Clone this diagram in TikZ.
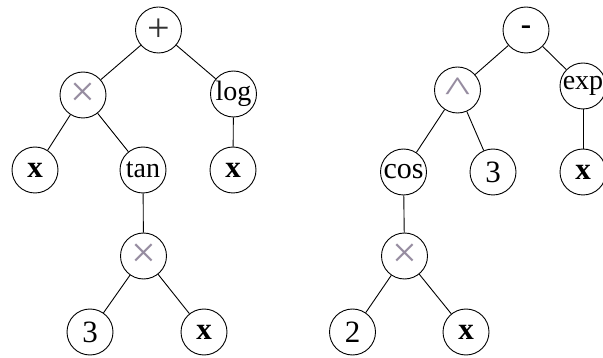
\documentclass[tikz,border=0pt]{standalone}
\usepackage{fontspec}
\setmainfont{Liberation Serif}
\definecolor{opgray}{RGB}{150,140,160}
\begin{document}
\begin{tikzpicture}[x=1pt,y=-1pt,
  tn/.style={circle,draw=black,line width=0.9pt,minimum size=46pt,inner sep=0pt,
    font=\fontsize{28}{28}\selectfont},
  big/.style={font=\fontsize{31}{31}\selectfont},
  op/.style={tn,text=opgray,font=\fontsize{44}{44}\selectfont},
  edge/.style={draw=black,line width=0.9pt}]
\useasboundingbox (0,0) rectangle (603,358);
% left tree
\node[tn,font=\fontsize{40}{40}\selectfont,text=black!80] (p) at (158.5,30) {\raisebox{-0.06em}{+}};
\node[op] (m1) at (83,95) {×};
\node[tn] (lg) at (233.5,94) {log};
\node[tn,big] (x1) at (35,170) {\textbf{x}};
\node[tn] (tn) at (143,170) {tan};
\node[tn,big] (x2) at (233,170) {\textbf{x}};
\node[op] (m2) at (143.5,256) {×};
\node[tn,big] (t3) at (90,332) {3};
\node[tn,big] (x3) at (204,332) {\textbf{x}};
\draw[edge] (p) -- (m1);
\draw[edge] (p) -- (lg);
\draw[edge] (m1) -- (x1);
\draw[edge] (m1) -- (tn);
\draw[edge] (lg) -- (x2);
\draw[edge] (tn) -- (m2);
\draw[edge] (m2) -- (t3);
\draw[edge] (m2) -- (x3);
% right tree
\node[tn,big] (mi) at (526,30) {\textbf{-}};
\node[op,font=\fontsize{36}{36}\selectfont] (ca) at (457.5,90) {\raisebox{-0.42em}{\scalebox{1.5}[1]{\^{}}}};
\node[tn,font=\fontsize{28}{28}\selectfont] (ex) at (583,86) {exp};
\node[tn,font=\fontsize{30}{30}\selectfont] (co) at (403.5,172) {cos};
\node[tn,big] (r3) at (493,172) {3};
\node[tn,big] (x4) at (583,172) {\textbf{x}};
\node[op] (m3) at (404.5,256) {×};
\node[tn,big] (t2) at (352.5,332) {2};
\node[tn,big] (x5) at (466,332) {\textbf{x}};
\draw[edge] (mi) -- (ca);
\draw[edge] (mi) -- (ex);
\draw[edge] (ca) -- (co);
\draw[edge] (ca) -- (r3);
\draw[edge] (ex) -- (x4);
\draw[edge] (co) -- (m3);
\draw[edge] (m3) -- (t2);
\draw[edge] (m3) -- (x5);
\end{tikzpicture}
\end{document}
